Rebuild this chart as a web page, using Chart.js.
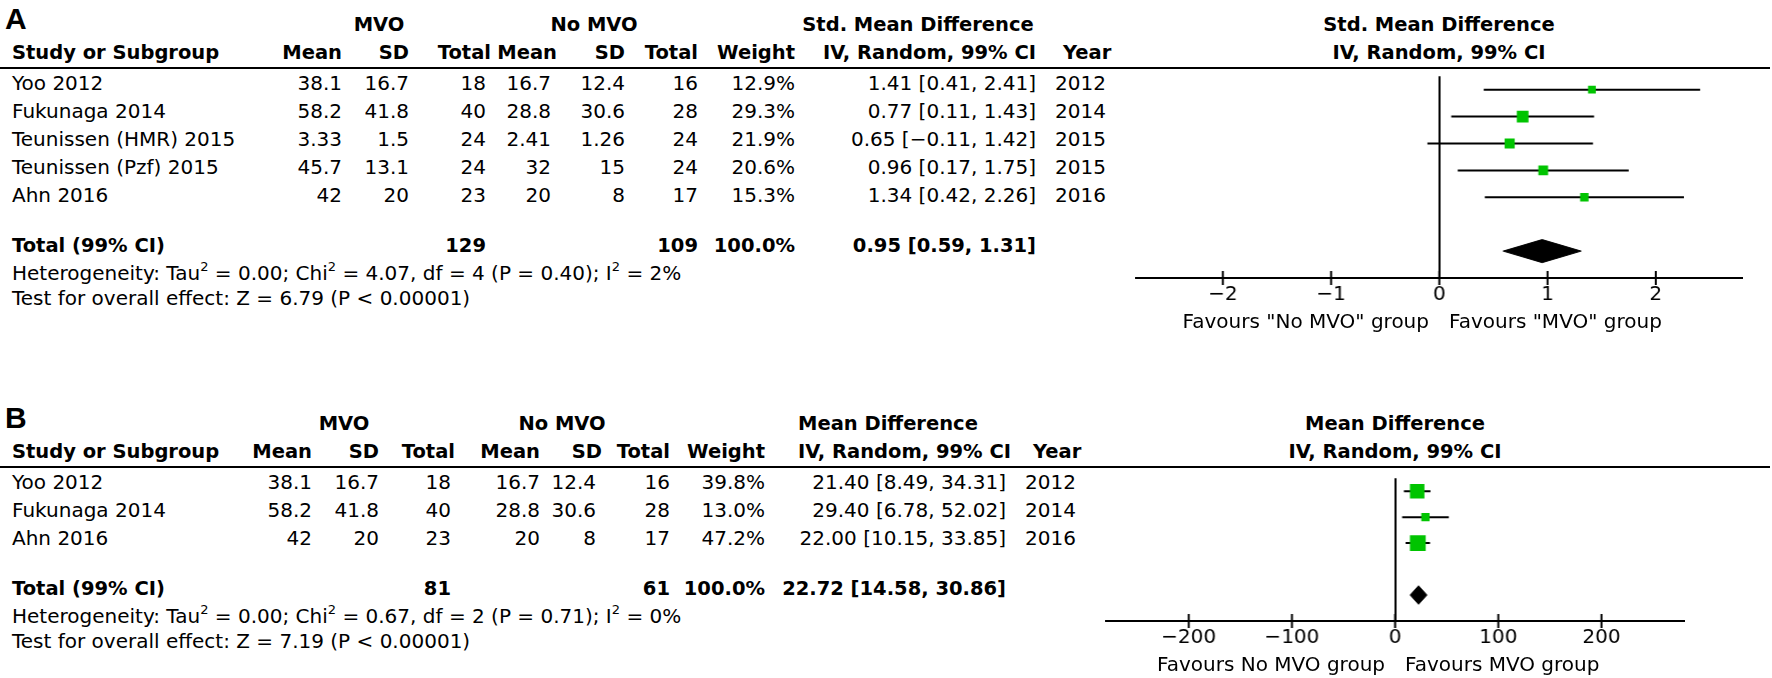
<!DOCTYPE html>
<html><head><meta charset="utf-8">
<script src="https://cdn.jsdelivr.net/npm/chart.js@4.4.1/dist/chart.umd.min.js"></script>
<style>
html,body{margin:0;padding:0;background:#fff;}
body{position:relative;width:1772px;height:678px;overflow:hidden;font-family:"DejaVu Sans",sans-serif;color:#000;}
.t{position:absolute;font-size:20px;line-height:24px;white-space:nowrap;}
.b{font-weight:bold;font-size:19.5px;}
.L{font-family:"Liberation Sans",Arial,sans-serif;font-weight:bold;font-size:30px;line-height:34px;}
.hl{position:absolute;height:2px;background:#000;}
.pc{position:absolute;}
sup{font-size:13px;line-height:0;vertical-align:9px;}
</style></head><body>
<script>
// ---------------- Panel A data ----------------
const studiesA = ["Yoo 2012","Fukunaga 2014","Teunissen (HMR) 2015","Teunissen (Pzf) 2015","Ahn 2016"];
const mvoMeanA = [38.1, 58.2, 3.33, 45.7, 42];
const mvoSdA   = [16.7, 41.8, 1.5, 13.1, 20];
const mvoNA    = [18, 40, 24, 24, 23];
const noMeanA  = [16.7, 28.8, 2.41, 32, 20];
const noSdA    = [12.4, 30.6, 1.26, 15, 8];
const noNA     = [16, 28, 24, 24, 17];
const weightA  = [12.9, 29.3, 21.9, 20.6, 15.3];
const estA     = [1.41, 0.77, 0.65, 0.96, 1.34];
const loA      = [0.41, 0.11, -0.11, 0.17, 0.42];
const hiA      = [2.41, 1.43, 1.42, 1.75, 2.26];
const yearA    = [2012, 2014, 2015, 2015, 2016];
const totalA   = [0.95, 0.59, 1.31];
const totalNA  = [129, 109];
const ticksA   = [-2, -1, 0, 1, 2];
const hetA  = "Heterogeneity: Tau<sup>2</sup> = 0.00; Chi<sup>2</sup> = 4.07, df = 4 (P = 0.40); I<sup>2</sup> = 2%";
const testA = "Test for overall effect: Z = 6.79 (P < 0.00001)";
const favA  = ["Favours \"No MVO\" group", "Favours \"MVO\" group"];
const effA  = ["Std. Mean Difference", "IV, Random, 99% CI"];

// ---------------- Panel B data ----------------
const studiesB = ["Yoo 2012","Fukunaga 2014","Ahn 2016"];
const mvoMeanB = [38.1, 58.2, 42];
const mvoSdB   = [16.7, 41.8, 20];
const mvoNB    = [18, 40, 23];
const noMeanB  = [16.7, 28.8, 20];
const noSdB    = [12.4, 30.6, 8];
const noNB     = [16, 28, 17];
const weightB  = [39.8, 13.0, 47.2];
const estB     = [21.40, 29.40, 22.00];
const loB      = [8.49, 6.78, 10.15];
const hiB      = [34.31, 52.02, 33.85];
const yearB    = [2012, 2014, 2016];
const totalB   = [22.72, 14.58, 30.86];
const totalNB  = [81, 61];
const ticksB   = [-200, -100, 0, 100, 200];
const hetB  = "Heterogeneity: Tau<sup>2</sup> = 0.00; Chi<sup>2</sup> = 0.67, df = 2 (P = 0.71); I<sup>2</sup> = 0%";
const testB = "Test for overall effect: Z = 7.19 (P < 0.00001)";
const favB  = ["Favours No MVO group", "Favours MVO group"];
const effB  = ["Mean Difference", "IV, Random, 99% CI"];

// ---------------- helpers ----------------
const W = 1772;
const MINUS = "\u2212";
const f2 = v => (v < 0 ? MINUS : "") + Math.abs(v).toFixed(2);
const ciText = (e, l, h) => f2(e) + " [" + f2(l) + ", " + f2(h) + "]";
const fmtTick = v => (v < 0 ? MINUS : "") + Math.abs(v);

function txt(s, x, y, align, cls, html) {
  const d = document.createElement('div');
  d.className = 't' + (cls ? ' ' + cls : '');
  if (html) d.innerHTML = s; else d.textContent = s;
  d.style.top = (y - 12) + 'px';
  if (align === 'r') d.style.right = (W - x) + 'px';
  else if (align === 'c') { d.style.left = x + 'px'; d.style.transform = 'translateX(-50%)'; }
  else d.style.left = x + 'px';
  document.body.appendChild(d);
  return d;
}
function hline(x1, x2, y) {
  const d = document.createElement('div');
  d.className = 'hl';
  d.style.left = x1 + 'px'; d.style.width = (x2 - x1) + 'px'; d.style.top = (y - 1) + 'px';
  document.body.appendChild(d);
}

const tickMarks = {
  id: 'tickMarks',
  afterDraw(chart) {
    const sx = chart.scales.x, ctx = chart.ctx, b = chart.chartArea.bottom;
    ctx.save(); ctx.strokeStyle = '#000'; ctx.lineWidth = 2;
    sx.ticks.forEach(t => {
      const px = sx.getPixelForValue(t.value);
      ctx.beginPath(); ctx.moveTo(px, b - 7); ctx.lineTo(px, b + 7); ctx.stroke();
    });
    ctx.restore();
  }
};

function panel(L, D) {
  const lt = txt(L.letter, 5, 0, 'l', 'L');
  lt.style.top = (L.lineY - 66) + 'px';
  const gy = L.lineY - 43, cy = L.lineY - 15;
  txt("MVO", L.hdr.mvoC, gy, 'c', 'b');
  txt("No MVO", L.hdr.noC, gy, 'c', 'b');
  txt(D.eff[0], L.hdr.effX, gy, L.hdr.effAlign, 'b');
  txt(D.eff[0], L.zeroX, gy, 'c', 'b');
  txt("Study or Subgroup", L.cols.name, cy, 'l', 'b');
  txt("Mean", L.hdr.mean, cy, 'r', 'b');
  txt("SD", L.hdr.sd, cy, 'r', 'b');
  txt("Total", L.hdr.n, cy, 'r', 'b');
  txt("Mean", L.hdr.nmean, cy, 'r', 'b');
  txt("SD", L.hdr.nsd, cy, 'r', 'b');
  txt("Total", L.hdr.nn, cy, 'r', 'b');
  txt("Weight", L.hdr.w, cy, 'r', 'b');
  txt(D.eff[1], L.hdr.ciX, cy, L.hdr.ciAlign, 'b');
  txt("Year", L.hdr.year, cy, 'l', 'b');
  txt(D.eff[1], L.zeroX, cy, 'c', 'b');
  hline(0, 1770, L.lineY);
  D.names.forEach((n, i) => {
    const y = L.lineY + L.rowH * (i + 0.5) + 1;
    txt(n, L.cols.name, y, 'l');
    txt(String(D.m1[i]), L.cols.mean, y, 'r');
    txt(String(D.s1[i]), L.cols.sd, y, 'r');
    txt(String(D.n1[i]), L.cols.n, y, 'r');
    txt(String(D.m2[i]), L.cols.nmean, y, 'r');
    txt(String(D.s2[i]), L.cols.nsd, y, 'r');
    txt(String(D.n2[i]), L.cols.nn, y, 'r');
    txt(D.w[i].toFixed(1) + "%", L.cols.w, y, 'r');
    txt(ciText(D.est[i], D.lo[i], D.hi[i]), L.cols.ci, y, 'r');
    txt(String(D.year[i]), L.cols.year, y, 'l');
  });
  const ty = L.lineY + L.rowH * L.totalRow - 4;
  txt("Total (99% CI)", L.cols.name, ty, 'l', 'b');
  txt(String(D.tn[0]), L.cols.n, ty, 'r', 'b');
  txt(String(D.tn[1]), L.cols.nn, ty, 'r', 'b');
  txt("100.0%", L.cols.w, ty, 'r', 'b');
  txt(ciText(D.tot[0], D.tot[1], D.tot[2]), L.cols.ci, ty, 'r', 'b');
  txt(D.het, L.cols.name, ty + 27, 'l', '', true);
  txt(D.test, L.cols.name, ty + 52, 'l');

  const plotH = L.rowH * L.yMax;
  const left = L.zeroX + L.xmin * L.ppu;
  const width = (L.xmax - L.xmin) * L.ppu;
  const box = document.createElement('div');
  box.className = 'pc';
  box.style.left = left + 'px'; box.style.top = L.lineY + 'px';
  box.style.width = width + 'px'; box.style.height = (plotH + 44) + 'px';
  const cv = document.createElement('canvas');
  box.appendChild(cv);
  document.body.appendChild(box);

  const datasets = [];
  datasets.push({
    data: D.est.map((e, i) => ({x: e, y: i + 0.5})),
    pointStyle: 'rect',
    pointRadius: D.w.map(w => L.sq * Math.sqrt(w) / Math.SQRT2),
    backgroundColor: '#00c400', borderWidth: 0, showLine: false, order: 0
  });
  D.names.forEach((n, i) => {
    datasets.push({
      data: [{x: D.lo[i], y: i + 0.5}, {x: D.hi[i], y: i + 0.5}],
      showLine: true, borderColor: '#000', borderWidth: 2, pointRadius: 0, order: 1
    });
  });
  const tr = L.totalRow, dh = L.dh / L.rowH;
  datasets.push({
    data: [{x: D.tot[1], y: tr}, {x: D.tot[0], y: tr - dh}, {x: D.tot[2], y: tr},
           {x: D.tot[0], y: tr + dh}, {x: D.tot[1], y: tr}],
    showLine: true, fill: 'shape', borderColor: '#000', backgroundColor: '#000',
    borderWidth: 1, pointRadius: 0, tension: 0, order: 1
  });

  new Chart(cv, {
    type: 'scatter',
    data: {datasets},
    options: {
      responsive: true, maintainAspectRatio: false, animation: false, events: [],
      layout: {padding: 0},
      plugins: {legend: {display: false}, tooltip: {enabled: false}},
      scales: {
        x: {
          type: 'linear', min: L.xmin, max: L.xmax,
          afterBuildTicks: s => { s.ticks = D.ticks.map(v => ({value: v})); },
          afterFit: s => { s.height = 44; },
          grid: {drawTicks: false, lineWidth: 2,
                 color: c => (c.tick && c.tick.value === 0) ? '#000' : 'rgba(0,0,0,0)'},
          border: {display: true, color: '#000', width: 2},
          ticks: {color: '#000', padding: 5, font: {family: 'DejaVu Sans', size: 20},
                  callback: v => fmtTick(v), maxRotation: 0, autoSkip: false}
        },
        y: {type: 'linear', min: 0, max: L.yMax, reverse: true, display: false}
      }
    },
    plugins: [tickMarks]
  });

  const fy = L.lineY + plotH + 43;
  txt(D.fav[0], L.zeroX - 10, fy, 'r');
  txt(D.fav[1], L.zeroX + 10, fy, 'l');
}

panel({
  letter: 'A', lineY: 68, rowH: 28, yMax: 7.5, totalRow: 6.5, dh: 12, sq: 2.15,
  zeroX: 1439, ppu: 111, xmin: -2.8, xmax: 2.8,
  cols: {name: 12, mean: 342, sd: 409, n: 486, nmean: 551, nsd: 625, nn: 698, w: 795, ci: 1036, year: 1055},
  hdr: {mean: 342, sd: 409, n: 491, nmean: 557, nsd: 625, nn: 698, w: 795,
        ciX: 1036, ciAlign: 'r', effX: 918, effAlign: 'c', year: 1063, mvoC: 379, noC: 594}
}, {names: studiesA, m1: mvoMeanA, s1: mvoSdA, n1: mvoNA, m2: noMeanA, s2: noSdA, n2: noNA,
    w: weightA, est: estA, lo: loA, hi: hiA, year: yearA, tot: totalA, tn: totalNA,
    ticks: ticksA, het: hetA, test: testA, fav: favA, eff: effA});

panel({
  letter: 'B', lineY: 467, rowH: 28, yMax: 5.5, totalRow: 4.5, dh: 10, sq: 2.3,
  zeroX: 1395, ppu: 1.07, xmin: -280, xmax: 280,
  cols: {name: 12, mean: 312, sd: 379, n: 451, nmean: 540, nsd: 596, nn: 670, w: 765, ci: 1006, year: 1025},
  hdr: {mean: 312, sd: 379, n: 455, nmean: 540, nsd: 602, nn: 670, w: 765,
        ciX: 798, ciAlign: 'l', effX: 798, effAlign: 'l', year: 1033, mvoC: 344, noC: 562}
}, {names: studiesB, m1: mvoMeanB, s1: mvoSdB, n1: mvoNB, m2: noMeanB, s2: noSdB, n2: noNB,
    w: weightB, est: estB, lo: loB, hi: hiB, year: yearB, tot: totalB, tn: totalNB,
    ticks: ticksB, het: hetB, test: testB, fav: favB, eff: effB});
</script>
</body></html>
